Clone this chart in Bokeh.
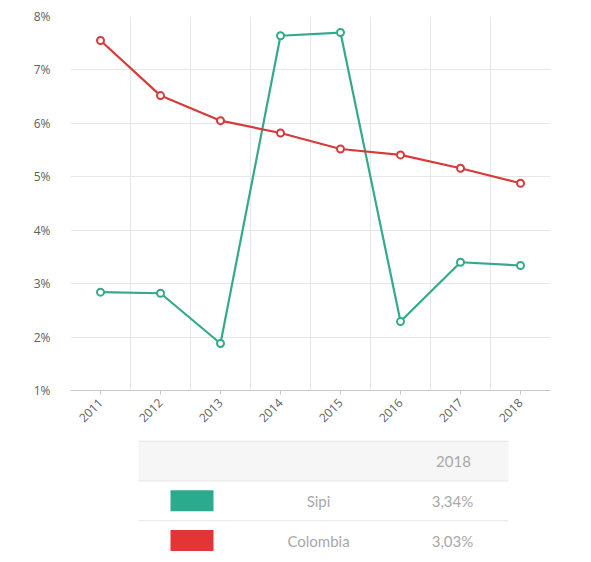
from bokeh.plotting import figure
from bokeh.models import Range1d, FixedTicker, PrintfTickFormatter
from bokeh.layouts import column
from bokeh.core.properties import value
from bokeh.embed import file_html
from bokeh.resources import INLINE

# ---- data ----
years = ["2011", "2012", "2013", "2014", "2015", "2016", "2017", "2018"]
sipi = [2.84, 2.82, 1.88, 7.64, 7.70, 2.29, 3.40, 3.34]
colombia = [7.55, 6.52, 6.05, 5.82, 5.52, 5.41, 5.16, 4.88]
y_ticks = [1, 2, 3, 4, 5, 6, 7, 8]

table_header = ["2018"]
table_names = ["Sipi", "Colombia"]
table_values = ["3,34%", "3,03%"]

teal = "#35a98b"
red = "#d83a3a"
teal_sw = "#2aab8e"
red_sw = "#e23535"

# ---- chart ----
xpos = [i + 0.5 for i in range(len(years))]

p = figure(width=585, height=430, x_range=Range1d(0, len(years)),
           y_range=Range1d(min(y_ticks), max(y_ticks)),
           output_backend="svg", toolbar_location=None,
           min_border_left=70, min_border_right=35, min_border_top=16,
           min_border_bottom=40)
p.outline_line_color = None
p.background_fill_color = "white"

p.xaxis.ticker = FixedTicker(ticks=xpos)
p.xaxis.major_label_overrides = {x: y for x, y in zip(xpos, years)}
p.xaxis.major_label_orientation = 0.785
p.xaxis.axis_line_color = "#c9c9c9"
p.xaxis.major_tick_line_color = "#c9c9c9"
p.xaxis.major_tick_out = 4
p.xaxis.major_tick_in = 0
p.xaxis.minor_tick_line_color = None
p.xaxis.major_label_standoff = 6

p.yaxis.ticker = FixedTicker(ticks=y_ticks)
p.yaxis.formatter = PrintfTickFormatter(format="%d%%")
p.yaxis.axis_line_color = None
p.yaxis.major_tick_line_color = None
p.yaxis.minor_tick_line_color = None
p.yaxis.major_label_standoff = 14

for ax in (p.xaxis, p.yaxis):
    ax.major_label_text_font = "Open Sans"
    ax.major_label_text_font_size = "12px"
    ax.major_label_text_color = "#606060"

p.xgrid.ticker = FixedTicker(ticks=list(range(len(years) + 1)))
p.ygrid.ticker = FixedTicker(ticks=y_ticks)
p.xgrid.grid_line_color = "#e6e6e6"
p.ygrid.grid_line_color = "#e6e6e6"

p.line(xpos, sipi, line_color=teal, line_width=2.2)
p.scatter(xpos, sipi, marker="circle", size=7, fill_color="white",
          line_color=teal, line_width=2)
p.line(xpos, colombia, line_color=red, line_width=2.2)
p.scatter(xpos, colombia, marker="circle", size=7, fill_color="white",
          line_color=red, line_width=2)

# ---- table (x in page pixels, same frame as the chart) ----
q = figure(width=585, height=130, x_range=Range1d(70, 550),
           y_range=Range1d(3.0, -0.27), output_backend="svg",
           toolbar_location=None, min_border_left=70, min_border_right=35,
           min_border_top=0, min_border_bottom=0)
q.axis.visible = False
q.grid.visible = False
q.outline_line_color = None

nrows = len(table_names) + 1
q.quad(left=138, right=508, top=0, bottom=1, fill_color="#f6f6f6",
       line_color=None)
bounds = list(range(nrows + 1))
q.segment(x0=[138] * len(bounds), x1=[508] * len(bounds), y0=bounds,
          y1=bounds, line_color="#e6e6e6", line_width=1)

row_y = [i + 1.5 for i in range(len(table_names))]
q.rect(x=[191.5] * len(row_y), y=row_y, width=43, height=21,
       height_units="screen", fill_color=[teal_sw, red_sw], line_color=None)

txt = dict(text_align="center", text_baseline="middle",
           text_font=value("Lato"), text_font_size="15px",
           text_color="#a8a8a8")
q.text(x=[453], y=[0.5], text=table_header, **txt)
q.text(x=[318] * len(row_y), y=row_y, text=table_names, **txt)
q.text(x=[452] * len(row_y), y=row_y, text=table_values, **txt)

layout = column(p, q, spacing=0)
open("out.html", "w").write(file_html(layout, INLINE))
